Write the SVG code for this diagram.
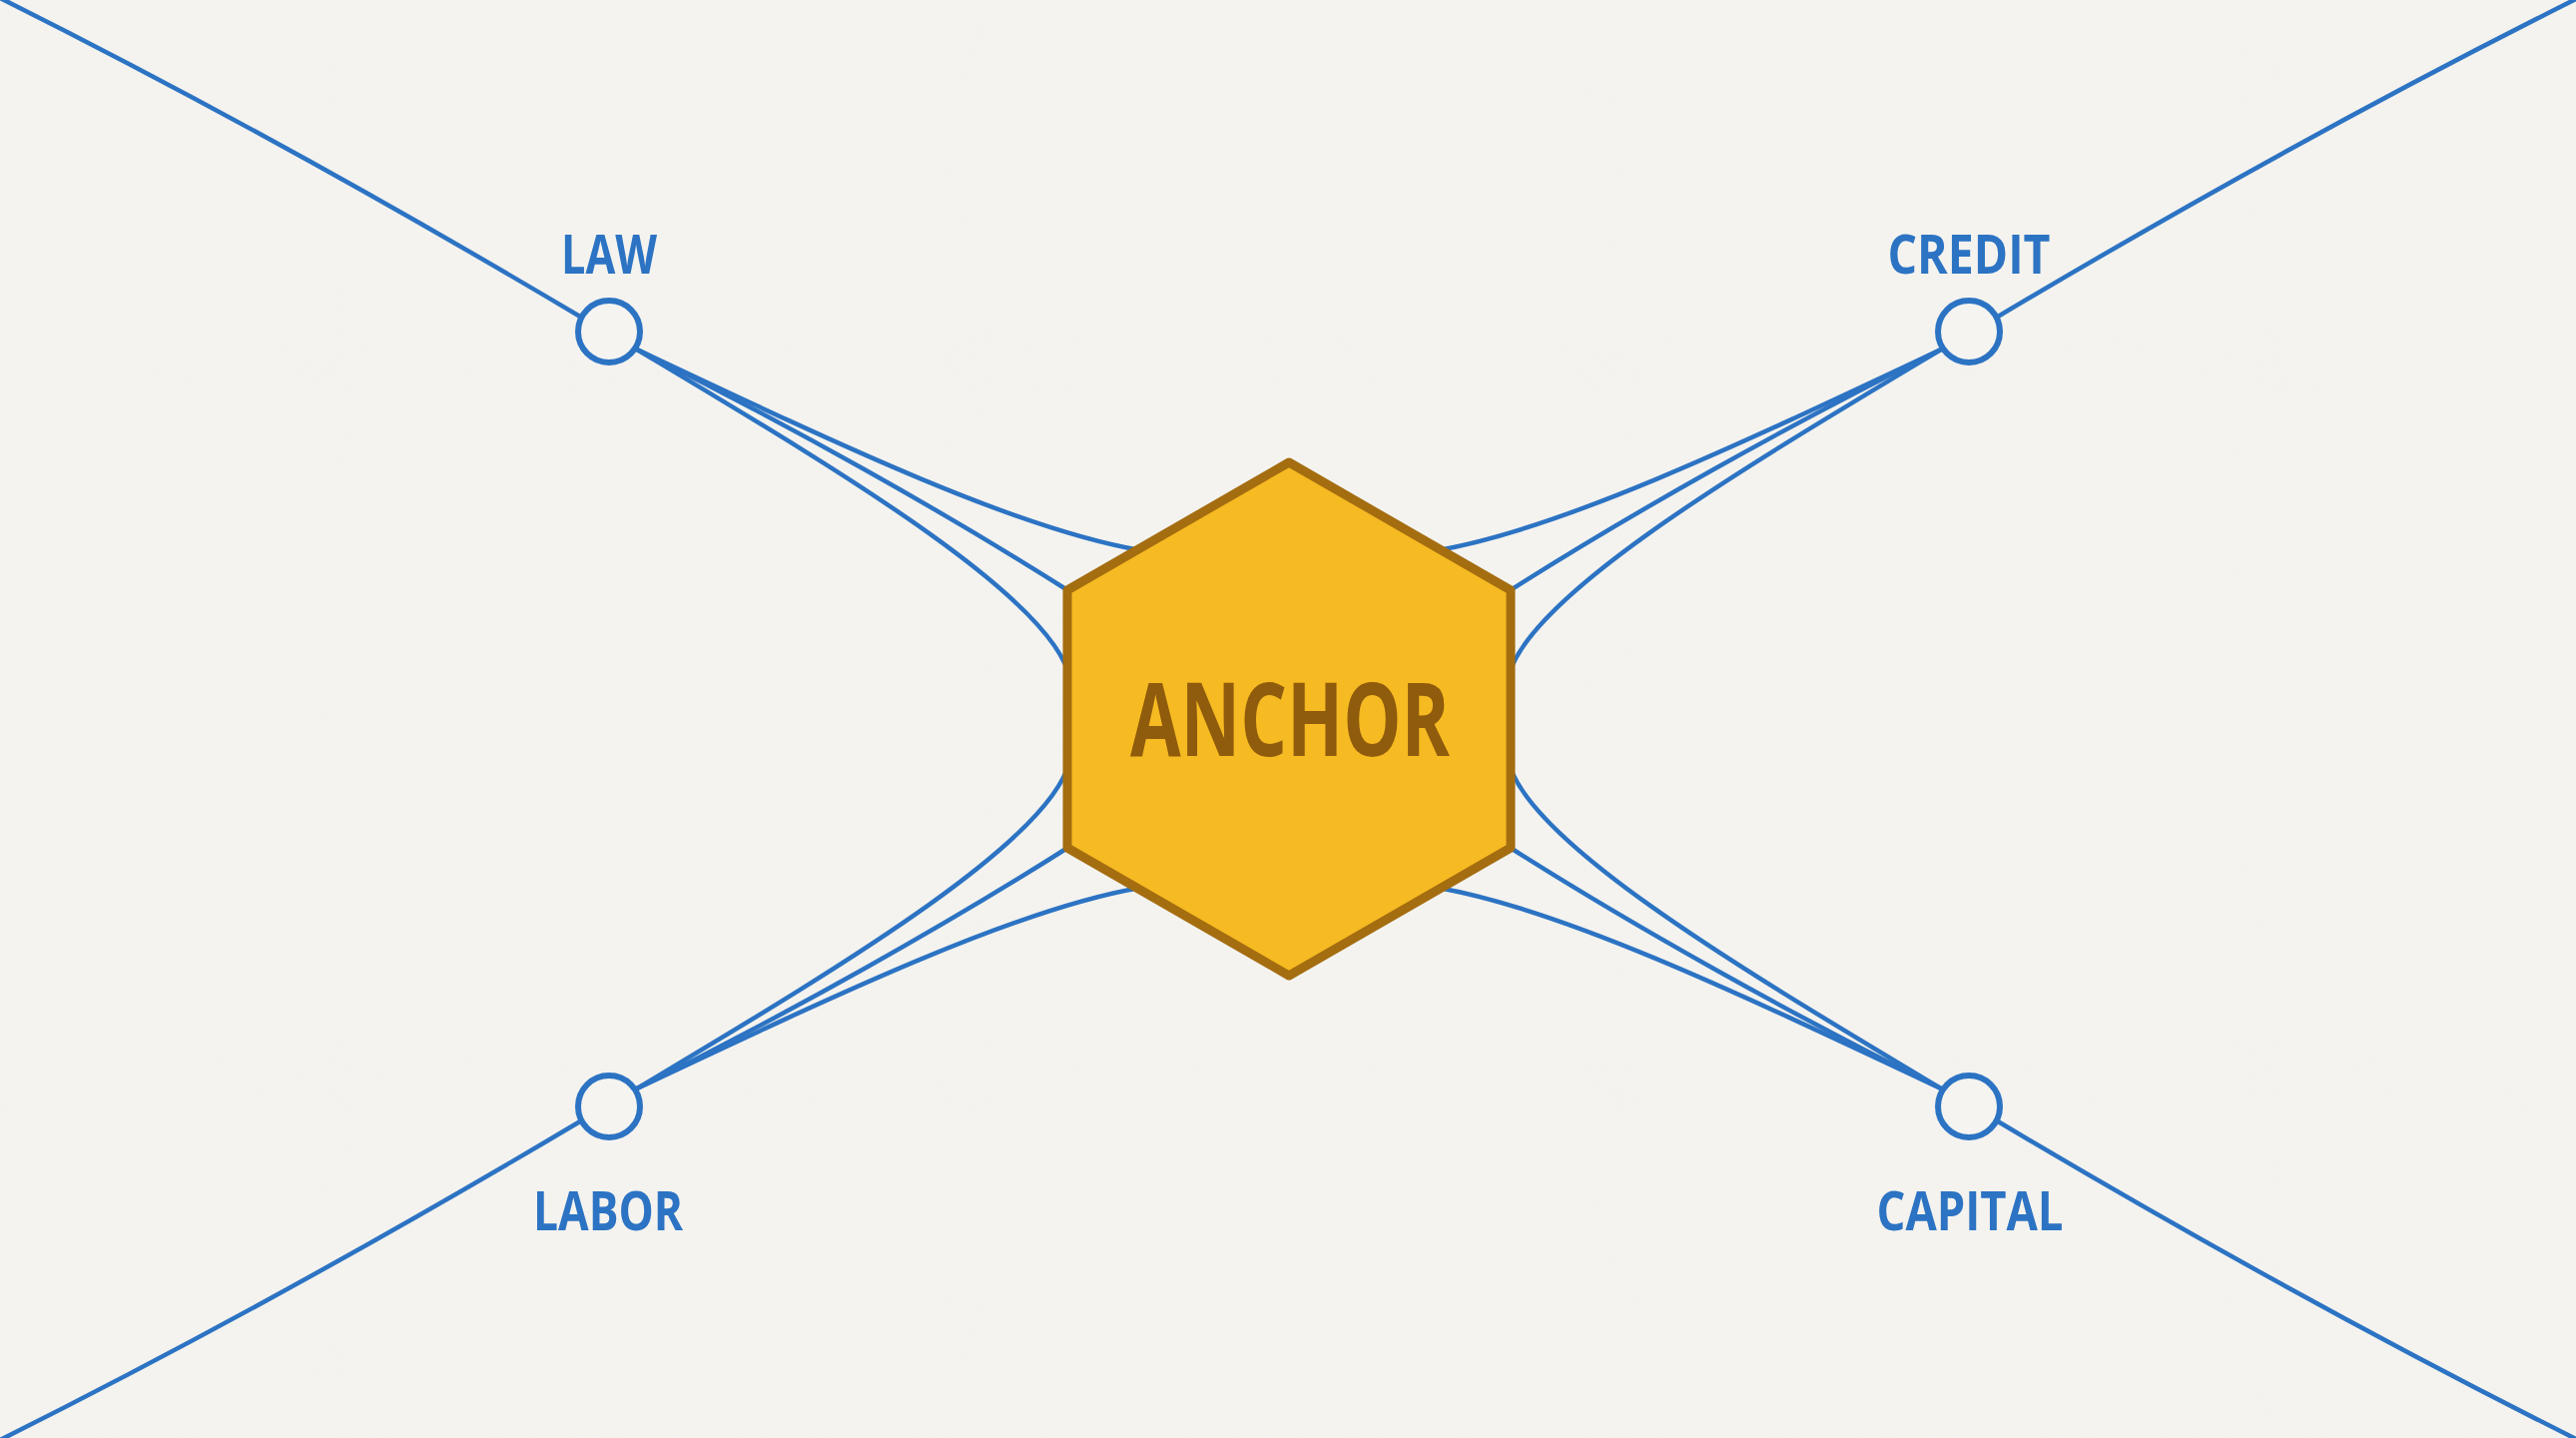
<svg xmlns="http://www.w3.org/2000/svg" width="2580" height="1440" viewBox="0 0 2580 1440">
  <defs>
    <filter id="paper" x="0" y="0" width="100%" height="100%">
      <feTurbulence type="fractalNoise" baseFrequency="0.6" numOctaves="3" seed="4" result="n"/>
      <feColorMatrix type="matrix" values="0 0 0 0 0.55  0 0 0 0 0.52  0 0 0 0 0.45  0 0 0 0.05 0" />
    </filter>
    <style>
      .wire { fill: none; stroke: #2c73c3; stroke-width: 4.5; stroke-linecap: round; }
      .ring { fill: #f5f4f0; stroke: #2c73c3; stroke-width: 6; }
      .ring2 { fill: none; stroke: #2c73c3; stroke-width: 2.5; opacity: 0.8; }
      .lbl { font-family: "Open Sans", "Liberation Sans", sans-serif; font-weight: 700; font-size: 54px; fill: #2c73c3; text-anchor: middle; }
      .hex { fill: #f6ba22; stroke: #a46d10; stroke-width: 9; stroke-linejoin: round; }
      .core { font-family: "Open Sans", "Liberation Sans", sans-serif; font-weight: 700; font-size: 102px; fill: #8f5b0c; text-anchor: middle; }
    </style>
  </defs>

  <rect width="2580" height="1440" fill="#f5f4f0"/>
  <rect width="2580" height="1440" filter="url(#paper)"/>

  <g id="connectors">
    <!-- outer lines to the corners -->
    <path class="wire" d="M 0 -2 Q 280 138 581 317"/>
    <path class="wire" d="M 2582 -2 Q 2302 138 2001 317"/>
    <path class="wire" d="M 0 1442 Q 280 1302 581 1123"/>
    <path class="wire" d="M 2582 1442 Q 2302 1302 2001 1123"/>

    <!-- LAW bundle -->
    <path class="wire" d="M 638 350 C 850 450 1020 530 1142 551"/>
    <path class="wire" d="M 638 350 C 790 425 950 515 1074 594"/>
    <path class="wire" d="M 638 350 C 830 465 1060 600 1072 682"/>
    <!-- CREDIT bundle -->
    <path class="wire" d="M 1944 350 C 1732 450 1562 530 1440 551"/>
    <path class="wire" d="M 1944 350 C 1792 425 1632 515 1508 594"/>
    <path class="wire" d="M 1944 350 C 1752 465 1522 600 1510 682"/>
    <!-- LABOR bundle -->
    <path class="wire" d="M 638 1090 C 850 990 1020 910 1142 889"/>
    <path class="wire" d="M 638 1090 C 790 1015 950 925 1074 846"/>
    <path class="wire" d="M 638 1090 C 830 975 1060 840 1072 758"/>
    <!-- CAPITAL bundle -->
    <path class="wire" d="M 1944 1090 C 1732 990 1562 910 1440 889"/>
    <path class="wire" d="M 1944 1090 C 1792 1015 1632 925 1508 846"/>
    <path class="wire" d="M 1944 1090 C 1752 975 1522 840 1510 758"/>
  </g>

  <g id="anchor">
    <polygon class="hex" points="1291,463 1513,591 1513,849 1291,977 1069,849 1069,591"/>
    <text class="core" x="1292" y="757" textLength="320" lengthAdjust="spacingAndGlyphs">ANCHOR</text>
  </g>

  <g id="law">
    <circle class="ring" cx="610" cy="332" r="31"/>
    <path class="ring2" d="M 595 305 A 31 31 0 0 1 641 326"/>
    <text class="lbl" x="610" y="274" textLength="96" lengthAdjust="spacingAndGlyphs">LAW</text>
  </g>

  <g id="credit">
    <circle class="ring" cx="1972" cy="332" r="31"/>
    <path class="ring2" d="M 2000 345 A 31 31 0 0 1 1975 364"/>
    <text class="lbl" x="1972" y="274" textLength="163" lengthAdjust="spacingAndGlyphs">CREDIT</text>
  </g>

  <g id="labor">
    <circle class="ring" cx="610" cy="1108" r="31"/>
    <path class="ring2" d="M 597 1081 A 31 31 0 0 1 640 1100"/>
    <text class="lbl" x="609" y="1232" textLength="150" lengthAdjust="spacingAndGlyphs">LABOR</text>
  </g>

  <g id="capital">
    <circle class="ring" cx="1972" cy="1108" r="31"/>
    <path class="ring2" d="M 1955 1083 A 31 31 0 0 1 1999 1094"/>
    <path class="ring2" d="M 2000 1122 A 31 31 0 0 1 1970 1139"/>
    <text class="lbl" x="1973" y="1232" textLength="187" lengthAdjust="spacingAndGlyphs">CAPITAL</text>
  </g>
</svg>
